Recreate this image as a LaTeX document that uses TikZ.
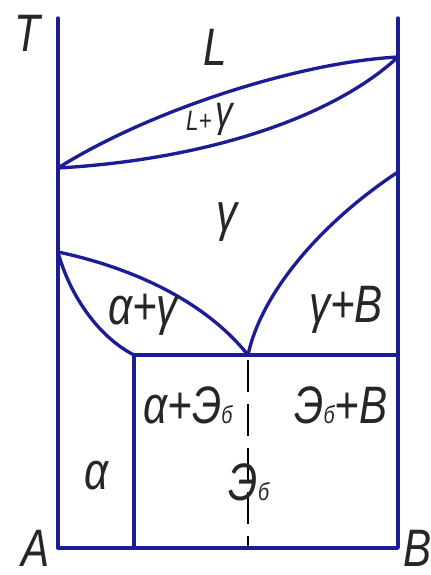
\documentclass[tikz,border=0pt]{standalone}
\usepackage{fontspec}
\setmainfont{Liberation Sans}
\newfontfamily\gost[FakeStretch=0.8]{Liberation Sans}
\usetikzlibrary{positioning}
\definecolor{phblue}{RGB}{28,28,150}
\newcommand\phE{Э{\fontsize{14}{14}\selectfont б}}

\begin{document}
\begin{tikzpicture}[x=0.02cm, y=-0.02cm,
  phase/.style={phblue, line width=1.9pt, line join=round, line cap=round},
  lbl/.style={font={\gost\itshape\fontsize{30}{30}\selectfont}, inner sep=0pt, text=black!85},
  small/.style={font={\gost\itshape\fontsize{16}{16}\selectfont}, inner sep=0pt, text=black!85}]
  \useasboundingbox (0,0) rectangle (430,575);

  % Key points
  \coordinate (A) at (58,548);
  \coordinate (Bc) at (398,548);
  \coordinate (Atop) at (58,18);
  \coordinate (Btop) at (398,18);
  \coordinate (pL) at (58,168);
  \coordinate (pB) at (398,57);
  \coordinate (pG) at (58,252);
  \coordinate (pS) at (398,172);
  \coordinate (E) at (248,355);
  \coordinate (pK) at (134,355);
  \coordinate (pR) at (398,355);
  \coordinate (Ebot) at (248,548);
  \coordinate (Kbot) at (134,548);

  % Axes and frame
  \draw[phase] (Atop) -- (A) -- (Bc) -- (Btop);

  % Liquidus and solidus
  \draw[phase] (pL) .. controls (150,110) and (300,62) .. (pB);
  \draw[phase] (pL) .. controls (200,160) and (330,120) .. (pB);

  % Solvus lines
  \draw[phase] (E) .. controls (262,290) and (325,220) .. (pS);
  \draw[phase] (pG) .. controls (120,265) and (200,295) .. (E);
  \draw[phase] (pG) .. controls (68,290) and (95,335) .. (pK);

  % Eutectoid line and phase boundaries below
  \draw[phase] (pK) -- (pR);
  \draw[phase] (pK) -- (Kbot);
  \draw[black, line width=0.6pt, dash pattern=on 18pt off 7pt, dash phase=-3pt] (E) -- (Ebot);

  % Labels
  \node[lbl] (tT) at (27,33) {T};
  \node[lbl] (tL) at (215,47) {L};
  \node[small, anchor=east] (tLg1) at (212,121) {L+};
  \node[lbl, font={\gost\itshape\fontsize{25}{25}\selectfont}, anchor=west] (tLg2) at (215,119) {γ};
  \node[lbl] (tg) at (227,222) {γ};
  \node[lbl] (tag) at (143,315) {α+γ};
  \node[lbl] (tgB) at (346,310) {γ+B};
  \node[lbl] (taE) at (188,405) {α+\phE};
  \node[lbl] (tEB) at (341,405) {\phE+B};
  \node[lbl] (tE) at (249,482) {\phE};
  \node[lbl] (ta) at (97,476) {α};
  \node[lbl] (tA) at (36,548) {A};
  \node[lbl, anchor=west] (tB) at (403,548) {B};
\end{tikzpicture}
\end{document}
